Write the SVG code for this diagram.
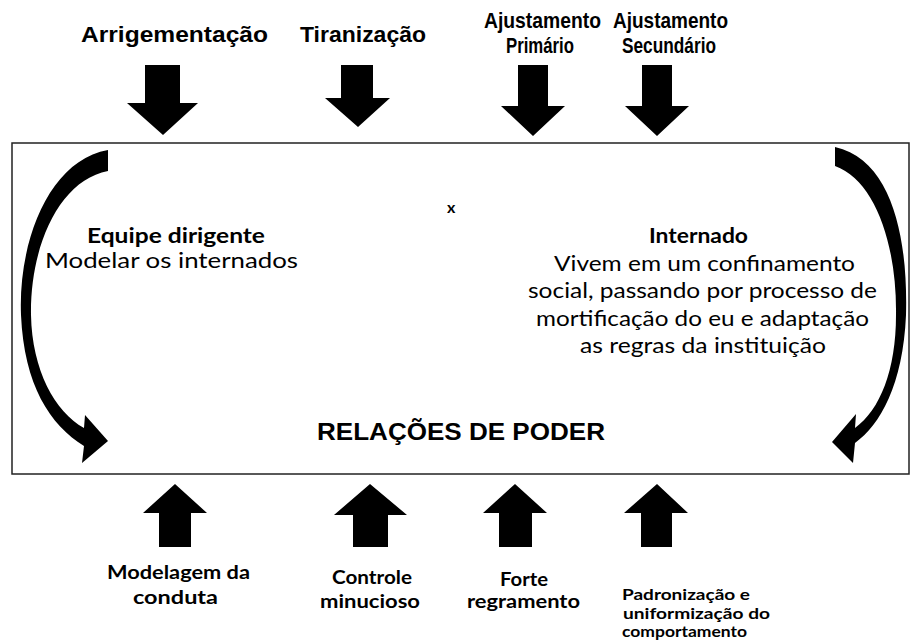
<svg xmlns="http://www.w3.org/2000/svg" width="912" height="640" viewBox="0 0 912 640">
<style>
.top{font-family:"Liberation Sans",Arial,sans-serif;font-weight:bold;font-size:22px;fill:#000}
.mid{font-family:Lato,"Open Sans",sans-serif;font-size:21px;fill:#000}
.b{font-weight:bold}
.bot{font-family:Lato,"Open Sans",sans-serif;font-weight:bold;font-size:19px;fill:#000}
.small{font-size:16px}
.title{font-family:"Liberation Sans",Arial,sans-serif;font-weight:bold;font-size:24px;fill:#000}
.arr{fill:#000}
</style>
<g id="frame">
<rect x="12" y="143" width="897" height="331" fill="#fff" stroke="#222" stroke-width="1.5"/>
</g>
<g id="connectors">
<polygon class="arr" points="145,65 180,65 180,103 198,103 163,135 127,103 145,103"/>
<polygon class="arr" points="341,65 373,65 373,98 390,98 358,127 325,98 341,98"/>
<polygon class="arr" points="518,65 548,65 548,106 565,106 533,136 501,106 518,106"/>
<polygon class="arr" points="642,65 672,65 672,106 689,106 657,136 625,106 642,106"/>
<polygon class="arr" points="159,547 191,547 191,513 207,513 175,484 143,513 159,513"/>
<polygon class="arr" points="353,547 388,547 388,515 407,515 370,484 334,515 353,515"/>
<polygon class="arr" points="499,547 532,547 532,513 547,513 515,484 483,513 499,513"/>
<polygon class="arr" points="641,547 672,547 672,513 688,513 657,484 624,513 641,513"/>
<path class="arr" d="M108,150 C50,160 18,240 21,315 C24,385 50,425 84,446 L82,463 L108,441 L85,415 L84,428 C55,412 32,370 31,315 C30,245 60,180 108,171 Z"/>
<path class="arr" d="M835,147 C893,160 908,240 906,315 C903,385 880,425 855,443 L853,463 L832,442 L856,414 L855,428 C880,410 896,370 896,315 C897,245 875,180 835,166 Z"/>
</g>
<g id="arrigementacao"><text class="top" x="81" y="42" textLength="187" lengthAdjust="spacingAndGlyphs">Arrigementação</text></g>
<g id="tiranizacao"><text class="top" x="300" y="42" textLength="126" lengthAdjust="spacingAndGlyphs">Tiranização</text></g>
<g id="ajustamento-primario">
<text class="top" x="484" y="28" textLength="117" lengthAdjust="spacingAndGlyphs">Ajustamento</text>
<text class="top" x="506" y="53" textLength="68" lengthAdjust="spacingAndGlyphs">Primário</text>
</g>
<g id="ajustamento-secundario">
<text class="top" x="613" y="28" textLength="115" lengthAdjust="spacingAndGlyphs">Ajustamento</text>
<text class="top" x="622" y="53" textLength="94" lengthAdjust="spacingAndGlyphs">Secundário</text>
</g>
<g id="versus"><text class="mid b" x="447" y="213" style="font-size:16px">x</text></g>
<g id="equipe-dirigente">
<text class="mid b" x="87" y="243" textLength="178" lengthAdjust="spacingAndGlyphs">Equipe dirigente</text>
<text class="mid" x="45" y="268" textLength="253" lengthAdjust="spacingAndGlyphs">Modelar os internados</text>
</g>
<g id="internado">
<text class="mid b" x="649" y="243" textLength="99" lengthAdjust="spacingAndGlyphs">Internado</text>
<text class="mid" x="554" y="271" textLength="301" lengthAdjust="spacingAndGlyphs">Vivem em um confinamento</text>
<text class="mid" x="528" y="298" textLength="349" lengthAdjust="spacingAndGlyphs">social, passando por processo de</text>
<text class="mid" x="536" y="326" textLength="333" lengthAdjust="spacingAndGlyphs">mortificação do eu e adaptação</text>
<text class="mid" x="580" y="353" textLength="246" lengthAdjust="spacingAndGlyphs">as regras da instituição</text>
</g>
<g id="relacoes-de-poder"><text class="title" x="317" y="440" textLength="288" lengthAdjust="spacingAndGlyphs">RELAÇÕES DE PODER</text></g>
<g id="modelagem">
<text class="bot" x="107" y="579" textLength="143" lengthAdjust="spacingAndGlyphs">Modelagem da</text>
<text class="bot" x="133" y="604" textLength="85" lengthAdjust="spacingAndGlyphs">conduta</text>
</g>
<g id="controle">
<text class="bot" x="332" y="584" textLength="80" lengthAdjust="spacingAndGlyphs">Controle</text>
<text class="bot" x="320" y="608" textLength="100" lengthAdjust="spacingAndGlyphs">minucioso</text>
</g>
<g id="forte">
<text class="bot" x="500" y="586" textLength="48" lengthAdjust="spacingAndGlyphs">Forte</text>
<text class="bot" x="467" y="608" textLength="113" lengthAdjust="spacingAndGlyphs">regramento</text>
</g>
<g id="padronizacao">
<text class="bot small" x="622" y="600" textLength="128" lengthAdjust="spacingAndGlyphs">Padronização e</text>
<text class="bot small" x="623" y="619" textLength="147" lengthAdjust="spacingAndGlyphs">uniformização do</text>
<text class="bot small" x="622" y="637" textLength="125" lengthAdjust="spacingAndGlyphs">comportamento</text>
</g>
</svg>
